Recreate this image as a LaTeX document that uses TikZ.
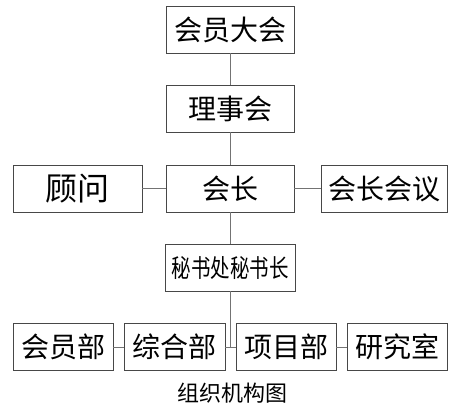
\documentclass[tikz,border=0pt]{standalone}
\usepackage{fontspec}
\setmainfont{Noto Sans CJK SC}
\begin{document}
\begin{tikzpicture}[x=1pt,y=-1pt,
  box/.style={draw=black!72, line width=0.8pt, minimum height=47pt, inner sep=0pt,
    font=\fontsize{28}{28}\selectfont},
  wide/.style={box, minimum width=128pt},
  small/.style={box, minimum width=100pt},
  conn/.style={draw=black!55, line width=0.8pt}]
\useasboundingbox (0,0) rectangle (452,412);
\node[wide] (dh) at (230,29.5) {会员大会};
\node[wide] (lsh) at (230,108.5) {理事会};
\node[wide] (hz) at (230,188.5) {会长};
\node[box, minimum width=129pt, font=\fontsize{32}{32}\selectfont] (gw) at (77.5,188.5) {顾问};
\node[box, minimum width=126pt] (hy) at (384,188.5) {会长会议};
\node[box, minimum width=130pt] (ms) at (230,267.5) {\scalebox{0.78}[1]{\fontsize{25}{25}\selectfont 秘书处秘书长}};
\node[small] (hyb) at (63,347) {会员部};
\node[small, minimum width=101pt] (zhb) at (174.5,347) {综合部};
\node[small] (xmb) at (286,347) {项目部};
\node[small] (yjs) at (397,347) {研究室};
\node[font=\fontsize{22}{22}\selectfont, inner sep=0pt] (cap) at (232,393) {组织机构图};
\coordinate (j) at (230,347);
\draw[conn] (dh) -- (lsh);
\draw[conn] (lsh) -- (hz);
\draw[conn] (gw) -- (hz);
\draw[conn] (hz) -- (hy);
\draw[conn] (hz) -- (ms);
\draw[conn] (ms) -- (j);
\draw[conn] (hyb) -- (zhb);
\draw[conn] (zhb) -- (xmb);
\draw[conn] (xmb) -- (yjs);
\end{tikzpicture}
\end{document}
